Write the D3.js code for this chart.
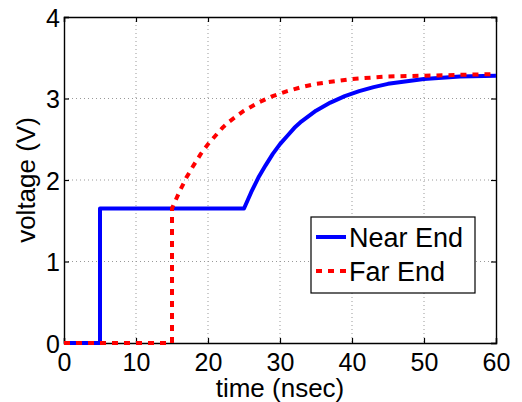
<!DOCTYPE html>
<html>
<head>
<meta charset="utf-8">
<script src="https://cdn.jsdelivr.net/npm/d3@7"></script>
<style>
  body { margin: 0; background: #fff; }
  text { font-family: "Liberation Sans", Arial, Helvetica, sans-serif; fill: #000; }
</style>
</head>
<body>
<div id="chart"></div>
<script>
"use strict";

// values
const nearTime = [0, 5, 5, 25, 26, 27, 28, 29, 30, 31, 32, 33, 35, 37, 39, 41, 43, 45, 50, 55, 60];
const nearVolt = [0, 0, 1.65, 1.65, 1.85, 2.03, 2.18, 2.32, 2.44, 2.54, 2.64, 2.72, 2.85, 2.95, 3.03, 3.09, 3.14, 3.18, 3.24, 3.27, 3.28];

const farTime = [0, 15, 15, 16, 17, 18, 19, 20, 21, 22, 23, 25, 27, 29, 31, 33, 35, 40, 45, 50, 55, 60];
const farVolt = [0, 0, 1.65, 1.85, 2.03, 2.18, 2.32, 2.44, 2.54, 2.64, 2.72, 2.85, 2.95, 3.03, 3.09, 3.14, 3.18, 3.24, 3.27, 3.28, 3.29, 3.30];

const xTicks = [0, 10, 20, 30, 40, 50, 60];
const yTicks = [0, 1, 2, 3, 4];
const seriesNames = ['Near End', 'Far End'];

const margin = { top: 17, right: 26, bottom: 59, left: 64 };
const width = 522 - margin.left - margin.right;
const height = 402 - margin.top - margin.bottom;

const x = d3.scaleLinear().domain([0, 60]).range([0, width]);
const y = d3.scaleLinear().domain([0, 4]).range([height, 0]);

const svg = d3.select('#chart')
  .append('svg')
  .attr('width', 522)
  .attr('height', 402)
  .append('g')
  .attr('transform', `translate(${margin.left},${margin.top})`);

// grid
svg.append('g')
  .selectAll('line')
  .data(xTicks.slice(1, -1))
  .join('line')
  .attr('x1', d => x(d)).attr('x2', d => x(d))
  .attr('y1', 0).attr('y2', height)
  .attr('stroke', '#999').attr('stroke-width', 1)
  .attr('stroke-dasharray', '1,3');

svg.append('g')
  .selectAll('line')
  .data(yTicks.slice(1, -1))
  .join('line')
  .attr('x1', 0).attr('x2', width)
  .attr('y1', d => y(d)).attr('y2', d => y(d))
  .attr('stroke', '#999').attr('stroke-width', 1)
  .attr('stroke-dasharray', '1,3');

// axes with inward ticks, box on
const fontSize = 25;
let xAxis = svg.append('g')
  .attr('transform', `translate(0,${height})`)
  .call(d3.axisBottom(x).tickValues(xTicks).tickFormat(d3.format('d')).tickSize(-5).tickPadding(12));
let yAxis = svg.append('g')
  .call(d3.axisLeft(y).tickValues(yTicks).tickFormat(d3.format('d')).tickSize(-5).tickPadding(4));
svg.append('g')
  .call(d3.axisTop(x).tickValues(xTicks).tickSize(-5).tickFormat(''));
svg.append('g')
  .attr('transform', `translate(${width},0)`)
  .call(d3.axisRight(y).tickValues(yTicks).tickSize(-5).tickFormat(''));

svg.selectAll('.domain').attr('stroke', '#000').attr('stroke-width', 1.4);
svg.selectAll('.tick line').attr('stroke', '#000').attr('stroke-width', 1.2);
svg.selectAll('.tick text')
  .style('font-family', '"Liberation Sans", Arial, sans-serif')
  .style('font-size', fontSize + 'px')
  .attr('fill', '#000');
xAxis.selectAll('.tick text').attr('dy', '0.62em');
yAxis.selectAll('.tick text').attr('dy', '0.36em');

// lines
const line = d3.line()
  .x(d => x(d[0]))
  .y(d => y(d[1]));

const nearData = nearTime.map((t, i) => [t, nearVolt[i]]);
const farData = farTime.map((t, i) => [t, farVolt[i]]);

svg.append('path')
  .datum(nearData)
  .attr('d', line)
  .attr('fill', 'none')
  .attr('stroke', '#0000ff')
  .attr('stroke-width', 4)
  .attr('stroke-linejoin', 'round');

svg.append('path')
  .datum(farData)
  .attr('d', line)
  .attr('fill', 'none')
  .attr('stroke', '#ff0000')
  .attr('stroke-width', 4)
  .attr('stroke-dasharray', '6,6');

// axis labels
svg.append('text')
  .attr('x', width / 2)
  .attr('y', height + 54)
  .attr('text-anchor', 'middle')
  .style('font-size', '26px')
  .text('time (nsec)');

svg.append('text')
  .attr('transform', `translate(${35 - margin.left},${height / 2}) rotate(-90)`)
  .attr('text-anchor', 'middle')
  .style('font-size', '26px')
  .text('voltage (V)');

// legend
const legend = svg.append('g')
  .attr('transform', `translate(${311 - margin.left},${217 - margin.top})`);

legend.append('rect')
  .attr('width', 164).attr('height', 76)
  .attr('fill', '#fff')
  .attr('stroke', '#000').attr('stroke-width', 1.2);

const legendColors = ['#0000ff', '#ff0000'];
const legendDash = [null, '6,6'];

seriesNames.forEach((name, i) => {
  let row = legend.append('g').attr('transform', `translate(0,${20 + i * 34})`);
  row.append('line')
    .attr('x1', 5).attr('x2', 35)
    .attr('stroke', legendColors[i])
    .attr('stroke-width', 4)
    .attr('stroke-dasharray', legendDash[i]);
  row.append('text')
    .attr('x', 38)
    .attr('dy', '0.36em')
    .style('font-size', '27px')
    .text(name);
});
</script>
</body>
</html>
